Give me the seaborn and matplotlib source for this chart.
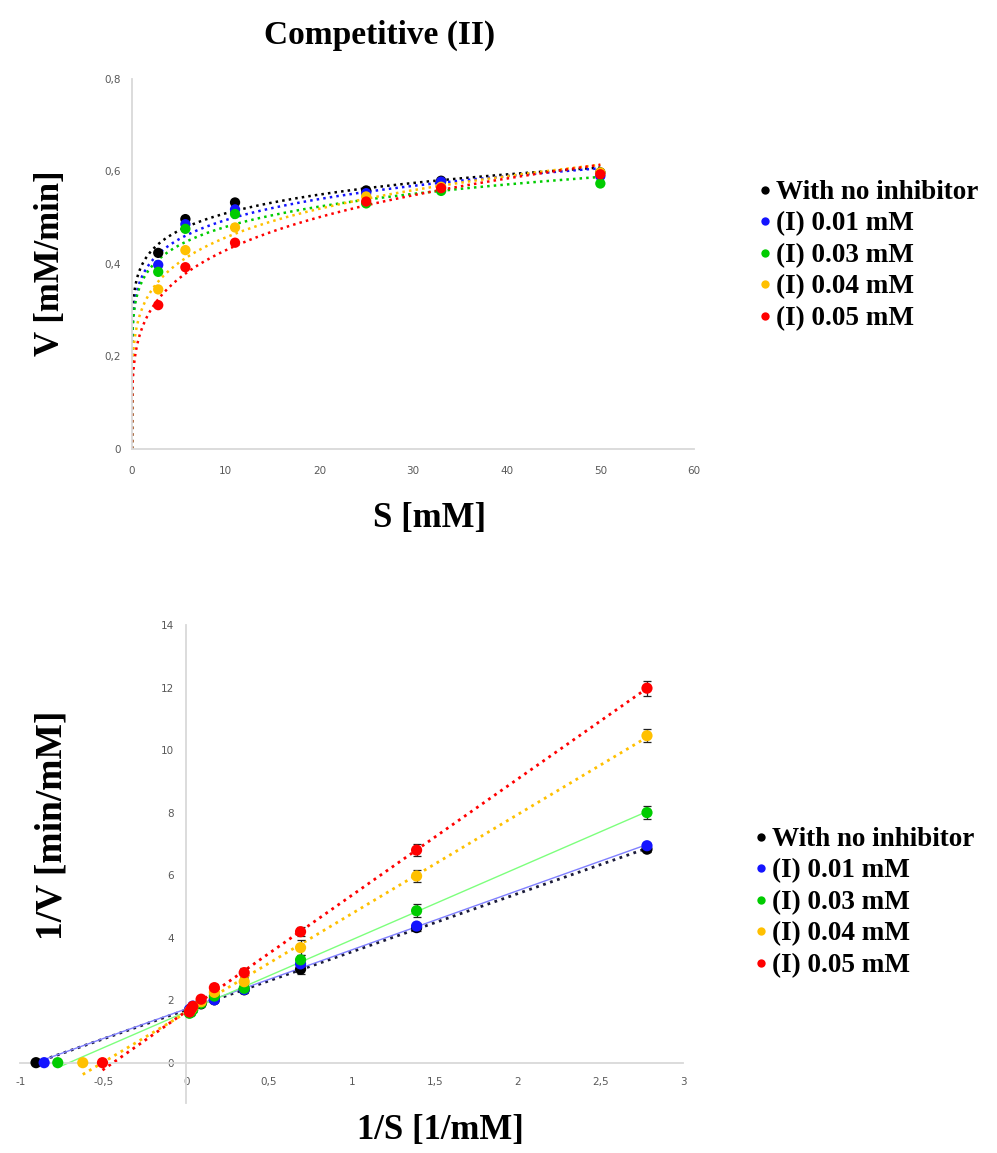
import numpy as np
import pandas as pd
import seaborn as sns
import matplotlib.pyplot as plt
from matplotlib.lines import Line2D

sns.set_theme(style="white")
plt.rcParams['font.family'] = ['DejaVu Sans']
plt.rcParams['text.color'] = 'black'

# --- data ---
series = ['With no inhibitor', '(I) 0.01 mM', '(I) 0.03 mM', '(I) 0.04 mM', '(I) 0.05 mM']
colors = ['#000000', '#1414FF', '#00CC00', '#FFC000', '#FF0000']

# Michaelis-Menten plot
s_vals = [2.8, 5.7, 11, 25, 33, 50]
v_none = [0.424, 0.497, 0.533, 0.559, 0.580, 0.598]
v_001 = [0.398, 0.486, 0.518, 0.553, 0.578, 0.590]
v_003 = [0.383, 0.476, 0.508, 0.531, 0.558, 0.574]
v_004 = [0.345, 0.430, 0.479, 0.546, 0.567, 0.598]
v_005 = [0.311, 0.393, 0.446, 0.535, 0.564, 0.594]

# Lineweaver-Burk plot
inv_s = [0.02, 0.03, 0.04, 0.09, 0.17, 0.35, 0.69, 1.39, 2.78]
inv_v_none = [1.67, 1.72, 1.79, 1.88, 2.01, 2.33, 2.99, 4.32, 6.83]
inv_v_001 = [1.70, 1.73, 1.81, 1.93, 2.01, 2.34, 3.16, 4.37, 6.94]
inv_v_003 = [1.58, 1.62, 1.70, 1.90, 2.13, 2.38, 3.29, 4.86, 8.00]
inv_v_004 = [1.64, 1.70, 1.78, 1.95, 2.25, 2.59, 3.68, 5.97, 10.46]
inv_v_005 = [1.62, 1.72, 1.80, 2.03, 2.40, 2.88, 4.19, 6.80, 11.98]
err_none = [0.08, 0.08, 0.08, 0.08, 0.08, 0.1, 0.15, 0.1, 0.1]
err_001 = [0.06, 0.06, 0.06, 0.06, 0.06, 0.08, 0.12, 0.1, 0.1]
err_003 = [0.08, 0.08, 0.08, 0.08, 0.08, 0.1, 0.15, 0.2, 0.2]
err_004 = [0.08, 0.08, 0.08, 0.08, 0.1, 0.12, 0.25, 0.18, 0.2]
err_005 = [0.08, 0.08, 0.08, 0.1, 0.12, 0.15, 0.15, 0.18, 0.24]
x_intercepts = [-0.906, -0.857, -0.775, -0.624, -0.505]

top_ticks = [0, 0.2, 0.4, 0.6, 0.8]
top_ticklabels = ['0', '0,2', '0,4', '0,6', '0,8']
top_xticks = [0, 10, 20, 30, 40, 50, 60]
bot_xticks = [-1, -0.5, 0, 0.5, 1, 1.5, 2, 2.5, 3]
bot_xticklabels = ['-1', '-0,5', '0', '0,5', '1', '1,5', '2', '2,5', '3']
bot_yticks = [0, 2, 4, 6, 8, 10, 12, 14]

v_sets = [v_none, v_001, v_003, v_004, v_005]
inv_sets = [inv_v_none, inv_v_001, inv_v_003, inv_v_004, inv_v_005]
err_sets = [err_none, err_001, err_003, err_004, err_005]
palette = dict(zip(series, colors))

df_top = pd.concat([pd.DataFrame({'S': s_vals, 'V': v, 'series': name})
                    for name, v in zip(series, v_sets)], ignore_index=True)
df_bot = pd.concat([pd.DataFrame({'x': inv_s + [xi], 'y': iv + [0.0],
                                  'err': e + [0.0], 'series': name})
                    for name, iv, e, xi in zip(series, inv_sets, err_sets, x_intercepts)],
                   ignore_index=True)

serif = ['Liberation Serif', 'DejaVu Serif']
tick_color = '#595959'
spine_color = '#d9d9d9'

fig = plt.figure(figsize=(9.97, 11.53), dpi=100)
ax1 = fig.add_axes([0.1324, 0.6106, 0.5637, 0.3209])
ax2 = fig.add_axes([0.0205, 0.0431, 0.665, 0.4148])

# --- top: V vs S with power trendlines ---
for name, c in zip(series, colors):
    d = df_top[df_top['series'] == name]
    b, log_a = np.polyfit(np.log(d['S']), np.log(d['V']), 1)
    grid = np.concatenate([[0.0], np.geomspace(1e-4, 50, 400)])
    curve = np.exp(log_a) * grid ** b
    sns.lineplot(x=grid, y=curve, ax=ax1, color=c, ls=':', lw=1.8, sort=False)
sns.scatterplot(data=df_top, x='S', y='V', hue='series', palette=palette, s=55,
                edgecolor='none', legend=False, ax=ax1, zorder=3)

ax1.set_xlim(0, 60)
ax1.set_ylim(0, 0.8)
ax1.set_xticks(top_xticks)
ax1.set_xticklabels([str(t) for t in top_xticks])
ax1.set_yticks(top_ticks)
ax1.set_yticklabels(top_ticklabels)
ax1.set_xlabel('')
ax1.set_ylabel('')
ax1.tick_params(length=0, labelsize=7.5, labelcolor=tick_color)
ax1.tick_params(axis='x', pad=12)
ax1.tick_params(axis='y', pad=8)
for sp in ['top', 'right']:
    ax1.spines[sp].set_visible(False)
for sp in ['left', 'bottom']:
    ax1.spines[sp].set_color(spine_color)
    ax1.spines[sp].set_linewidth(1.3)

# --- bottom: Lineweaver-Burk with linear trendlines ---
line_styles = [':', '-', '-', ':', ':']
line_colors = ['#1a1a3a', '#8080ff', '#7dff7d', '#FFC000', '#FF0000']
line_widths = [2.0, 1.0, 1.0, 2.0, 2.0]
for name, ls, lc, lw, xi in zip(series, line_styles, line_colors, line_widths, x_intercepts):
    d = df_bot[(df_bot['series'] == name) & (df_bot['y'] > 0)]
    m, k = np.polyfit(d['x'], d['y'], 1)
    xs = np.array([xi, max(inv_s)])
    sns.lineplot(x=xs, y=m * xs + k, ax=ax2, color=lc, ls=ls, lw=lw)

for name in series:
    d = df_bot[(df_bot['series'] == name) & (df_bot['err'] > 0)]
    ax2.errorbar(d['x'], d['y'], yerr=d['err'], fmt='none', ecolor='#222222',
                 elinewidth=0.9, capsize=3, capthick=0.9, zorder=2)
sns.scatterplot(data=df_bot, x='x', y='y', hue='series', palette=palette, s=65,
                edgecolor='none', legend=False, ax=ax2, zorder=3)

ax2.set_xlim(-1, 3)
ax2.set_ylim(-1.3, 14)
ax2.set_xticks(bot_xticks)
ax2.set_xticklabels(bot_xticklabels)
ax2.set_yticks(bot_yticks)
ax2.set_yticklabels([str(t) for t in bot_yticks])
ax2.set_xlabel('')
ax2.set_ylabel('')
ax2.tick_params(length=0, labelsize=7.5, labelcolor=tick_color)
ax2.tick_params(axis='x', pad=10)
ax2.tick_params(axis='y', pad=9)
for sp in ['top', 'right']:
    ax2.spines[sp].set_visible(False)
for sp in ['left', 'bottom']:
    ax2.spines[sp].set_position(('data', 0))
    ax2.spines[sp].set_color(spine_color)
    ax2.spines[sp].set_linewidth(1.3)

# --- texts ---
def px(x, y):
    return x / 997, 1 - y / 1153

txt = dict(family=serif, weight='bold', color='black', ha='center', va='center')
fig.text(*px(380, 35), 'Competitive (II)', size=24, **txt)
fig.text(*px(50, 263), 'V [mM/min]', size=25, rotation=90, **txt)
fig.text(*px(430, 518), 'S [mM]', size=25, **txt)
fig.text(*px(52, 825), '1/V [min/mM]', size=27, rotation=90, **txt)
fig.text(*px(440, 1130), '1/S [1/mM]', size=25, **txt)

# --- legends ---
handles = [Line2D([], [], ls='none', marker='o', markersize=6, color=c,
                  markeredgewidth=0) for c in colors]
leg_kw = dict(frameon=False, loc='upper left', handlelength=0.5, handletextpad=0.15,
              labelspacing=0.24, borderpad=0, borderaxespad=0, labelcolor='black',
              prop={'family': serif, 'weight': 'bold', 'size': 19.5})
fig.legend(handles, series, bbox_to_anchor=px(758, 180), **leg_kw)
fig.legend(handles, series, bbox_to_anchor=px(754, 827), **leg_kw)

fig.savefig('out.png', dpi=100)
